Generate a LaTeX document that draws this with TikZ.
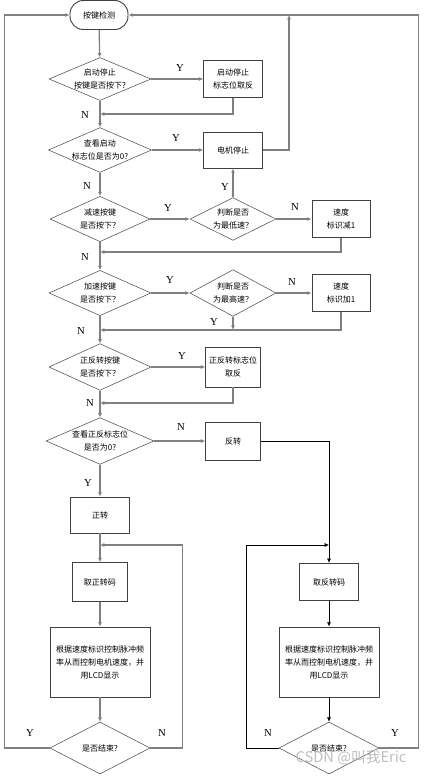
\documentclass[tikz,border=0pt]{standalone}
\usepackage{fontspec}
\setmainfont{Liberation Serif}
\newfontfamily\cn{Noto Sans CJK SC}
\usepackage{tikz}
\usetikzlibrary{shapes.geometric, arrows.meta}

\begin{document}
\begin{tikzpicture}[
    x=0.75pt, y=-0.75pt,
    txt/.style={font=\cn\fontsize{6}{9.75}\selectfont, align=center},
    dia/.style={txt, diamond, draw=black!70, inner sep=0pt, aspect=2.3},
    box/.style={txt, rectangle, draw=black!75, line width=0.7pt, inner sep=1pt},
    flow/.style={-{Latex[length=3.2pt, width=3pt]}, line width=1pt, black!50},
    rflow/.style={-{Latex[length=3.2pt, width=3pt]}, line width=0.5pt, black},
    lab/.style={font=\fontsize{8}{9}\selectfont}
]
\useasboundingbox (0,0) rectangle (425,776);

% left column
\node[box, rounded corners=10pt, minimum width=43.5pt, minimum height=21.75pt] (start) at (99,15) {按键检测};
\node[dia, minimum width=76.5pt, minimum height=31.5pt] (d1) at (100,79) {启动停止\\按键是否按下?};
\node[dia, minimum width=76.5pt, minimum height=31.5pt] (d2) at (100,150) {查看启动\\标志位是否为0?};
\node[dia, minimum width=75pt, minimum height=34pt] (d3) at (100,219) {减速按键\\是否按下？};
\node[dia, minimum width=76.5pt, minimum height=34pt] (d5) at (100,293) {加速按键\\是否按下？};
\node[dia, minimum width=76.5pt, minimum height=35pt] (d7) at (100,367) {正反转按键\\是否按下？};
\node[dia, minimum width=81pt, minimum height=35pt] (d8) at (100,441) {查看正反标志位\\是否为0?};
\node[box, minimum width=44pt, minimum height=27pt] (fwd) at (100,515) {正转};
\node[box, minimum width=41pt, minimum height=29pt] (fcode) at (100,582) {取正转码};
\node[box, minimum width=75pt, minimum height=52.5pt] (fshow) at (100,662) {根据速度标识控制脉冲频\\率从而控制电机速度，并\\用LCD显示};
\node[dia, minimum width=75pt, minimum height=39pt] (fend) at (100,748) {是否结束?};

% middle column
\node[box, minimum width=44pt, minimum height=27.75pt] (b1) at (233,79) {启动停止\\标志位取反};
\node[box, minimum width=44pt, minimum height=27pt] (stop) at (233,150) {电机停止};
\node[dia, aspect=2, minimum width=64.5pt, minimum height=32pt] (d4) at (233,219) {判断是否\\为最低速？};
\node[dia, aspect=2, minimum width=64.5pt, minimum height=35pt] (d6) at (233,293) {判断是否\\为最高速？};
\node[box, minimum width=41pt, minimum height=30pt] (b7) at (233,367) {正反转标志位\\取反};
\node[box, minimum width=41pt, minimum height=28.5pt] (rev) at (233,441) {反转};

% right column
\node[box, minimum width=43.5pt, minimum height=27.75pt] (dec) at (341,219) {速度\\标识减1};
\node[box, minimum width=43.5pt, minimum height=27.75pt] (inc) at (341,293) {速度\\标识加1};
\node[box, minimum width=44pt, minimum height=28pt] (rcode) at (329,582) {取反转码};
\node[box, minimum width=75pt, minimum height=52.5pt] (rshow) at (329,662) {根据速度标识控制脉冲频\\率从而控制电机速度，并\\用LCD显示};
\node[dia, minimum width=75pt, minimum height=39pt] (rend) at (329,748) {是否结束?};

% merge points
\coordinate (m1) at (100,114);
\coordinate (m3) at (100,252);
\coordinate (m5) at (100,330);
\coordinate (m7) at (100,403);
\coordinate (m9) at (100,545);
\coordinate (m10) at (329,545);
\coordinate (top) at (289,15);

% main flow
\draw[flow] (start) -- (d1);
\draw[flow] (d1) -- (d2);
\draw[flow] (d2) -- (d3);
\draw[flow] (d3) -- (d5);
\draw[flow] (d5) -- (d7);
\draw[flow] (d7) -- (d8);
\draw[flow] (d8) -- (fwd);
\draw[flow] (fwd) -- (fcode);
\draw[flow] (fcode) -- (fshow);
\draw[flow] (fshow) -- (fend);

% branches
\draw[flow] (d1) -- (b1);
\draw[flow] (b1.south) |- (m1);
\draw[flow] (d2) -- (stop);
\draw[flow] (stop.east) -| (top);
\draw[flow] (d3) -- (d4);
\draw[flow] (d4) -- (stop);
\draw[flow] (d4) -- (dec);
\draw[flow] (dec.south) |- (m3);
\draw[flow] (d5) -- (d6);
\draw[flow] (d6) -- (inc);
\draw[flow] (d6.south) -- (233,330);
\draw[flow] (inc.south) |- (m5);
\draw[flow] (d7) -- (b7);
\draw[flow] (b7.south) |- (m7);
\draw[flow] (d8) -- (rev);
\draw[rflow] (rev.east) -| (rcode.north);
\draw[rflow] (rcode) -- (rshow);
\draw[rflow] (rshow) -- (rend);

% loops
\draw[flow] (fend.west) -- ++(-45,0) |- (start.west);
\draw[flow] (fend.east) -- ++(32,0) |- (m9);
\draw[rflow] (rend.west) -- ++(-32,0) |- (m10);
\draw[flow, line width=0.8pt] (rend.east) -- ++(39,0) |- (start.east);

% labels
\node[lab] at (180,68) {Y};
\node[lab] at (85,115) {N};
\node[lab] at (176,138) {Y};
\node[lab] at (87,186) {N};
\node[lab] at (168,208) {Y};
\node[lab] at (225,187) {Y};
\node[lab] at (295,207) {N};
\node[lab] at (85,257) {N};
\node[lab] at (170,280) {Y};
\node[lab] at (292,282) {N};
\node[lab] at (214,322) {Y};
\node[lab] at (81,331) {N};
\node[lab] at (182,356) {Y};
\node[lab] at (90,403) {N};
\node[lab] at (181,427) {N};
\node[lab] at (88,483) {Y};
\node[lab] at (30,733) {Y};
\node[lab] at (162,733) {N};
\node[lab] at (268,733) {N};
\node[lab] at (395,733) {Y};

% watermark
\node[font=\cn\fontsize{11}{12}\selectfont, text=black!25] (mark) at (351,758) {CSDN @叫我Eric};
\end{tikzpicture}
\end{document}
